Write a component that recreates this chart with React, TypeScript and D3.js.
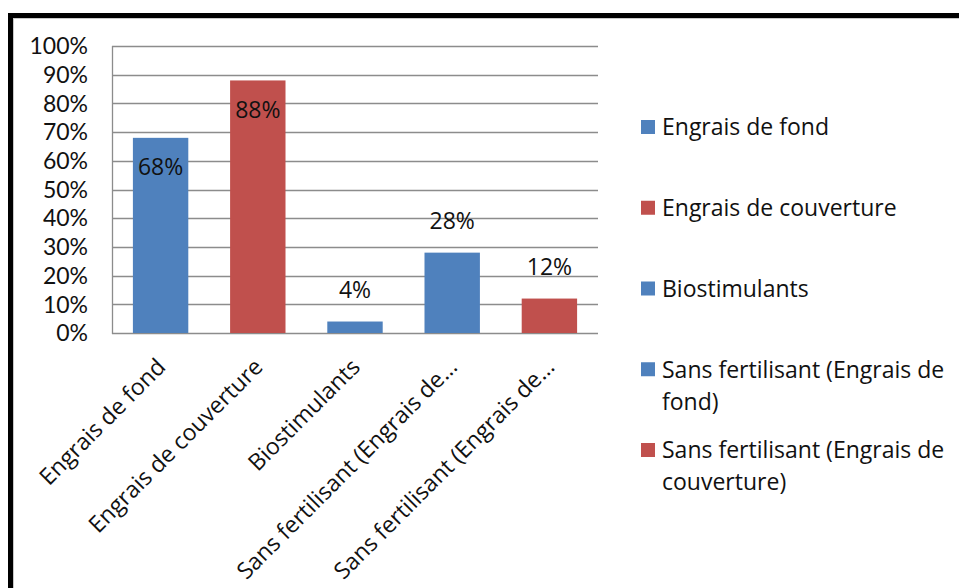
import React, { useEffect, useRef } from "react";
import * as d3 from "d3";

const categories = [
  "Engrais de fond",
  "Engrais de couverture",
  "Biostimulants",
  "Sans fertilisant (Engrais de fond)",
  "Sans fertilisant (Engrais de couverture)",
];
const axisLabels = [
  "Engrais de fond",
  "Engrais de couverture",
  "Biostimulants",
  "Sans fertilisant (Engrais de…",
  "Sans fertilisant (Engrais de…",
];
const values = [0.68, 0.88, 0.04, 0.28, 0.12];
const seriesColorKey = ["blue", "red", "blue", "blue", "red"];
const labelPlacement = ["inside", "inside", "outside", "outside", "outside"];
const yTicks = [0, 0.1, 0.2, 0.3, 0.4, 0.5, 0.6, 0.7, 0.8, 0.9, 1.0];
const legendLines = [
  ["Engrais de fond"],
  ["Engrais de couverture"],
  ["Biostimulants"],
  ["Sans fertilisant (Engrais de", "fond)"],
  ["Sans fertilisant (Engrais de", "couverture)"],
];

const COLORS: Record<string, string> = { blue: "#4F81BD", red: "#C0504D" };
const FONT = "'Open Sans', Lato, sans-serif";
const TICK_FONT = "Lato, 'Open Sans', sans-serif";
const FS = 23;

export default function App() {
  const ref = useRef<SVGSVGElement>(null);

  useEffect(() => {
    const svg = d3.select(ref.current);
    svg.selectAll("*").remove();
    const W = 959, H = 588;
    const plot = { left: 112, right: 598, top: 46, bottom: 333 };

    svg.append("rect").attr("x", 0).attr("y", 0).attr("width", W).attr("height", H).attr("fill", "#fff");

    // frame
    svg.append("rect").attr("x", 8).attr("y", 13).attr("width", W).attr("height", 5).attr("fill", "#000");
    svg.append("rect").attr("x", 8).attr("y", 13).attr("width", 5).attr("height", H).attr("fill", "#000");
    svg.append("line").attr("x1", 13).attr("x2", W).attr("y1", 18.5).attr("y2", 18.5).attr("stroke", "#c8c8c8");
    svg.append("line").attr("x1", 13.5).attr("x2", 13.5).attr("y1", 18).attr("y2", H).attr("stroke", "#c8c8c8");

    const x = d3.scaleBand<number>()
      .domain(d3.range(categories.length))
      .range([plot.left, plot.right])
      .paddingInner(0.43)
      .paddingOuter(0.215);
    const y = d3.scaleLinear().domain([0, 1]).range([plot.bottom, plot.top]);

    // gridlines
    svg.append("g").selectAll("line").data(yTicks).join("line")
      .attr("x1", plot.left).attr("x2", plot.right)
      .attr("y1", (d) => Math.round(y(d)) + 0.5).attr("y2", (d) => Math.round(y(d)) + 0.5)
      .attr("stroke", "#8c8c8c").attr("stroke-width", 1.3);
    svg.append("line").attr("x1", plot.left + 0.5).attr("x2", plot.left + 0.5)
      .attr("y1", plot.top).attr("y2", plot.bottom + 1)
      .attr("stroke", "#8c8c8c").attr("stroke-width", 1.3);

    // y tick labels
    svg.append("g").selectAll("text").data(yTicks).join("text")
      .attr("x", 88).attr("y", (d) => y(d))
      .attr("dy", "0.36em")
      .attr("text-anchor", "end")
      .attr("font-family", TICK_FONT).attr("font-size", FS).attr("fill", "#111")
      .text((d) => d3.format(".0%")(d));

    // bars
    svg.append("g").selectAll("rect").data(values).join("rect")
      .attr("x", (_, i) => x(i)!)
      .attr("width", x.bandwidth())
      .attr("y", (d) => y(d))
      .attr("height", (d) => y(0) - y(d))
      .attr("fill", (_, i) => COLORS[seriesColorKey[i]]);

    // data labels
    svg.append("g").selectAll("text").data(values).join("text")
      .attr("x", (_, i) => x(i)! + x.bandwidth() / 2)
      .attr("y", (d, i) => (labelPlacement[i] === "inside" ? y(d) + 29 : y(d) - 32))
      .attr("dy", "0.36em")
      .attr("text-anchor", "middle")
      .attr("font-family", FONT).attr("font-size", FS).attr("fill", "#111")
      .text((d) => d3.format(".0%")(d));

    // x labels
    svg.append("g").selectAll("text").data(axisLabels).join("text")
      .attr("transform", (_, i) => `translate(${x(i)! + x.bandwidth() / 2 - 5},${plot.bottom + 24}) rotate(-45)`)
      .attr("text-anchor", "end")
      .attr("dy", "0.7em")
      .attr("font-family", FONT).attr("font-size", FS).attr("fill", "#111")
      .text((d) => d);

    // legend
    const lg = svg.append("g");
    legendLines.forEach((lines, i) => {
      const cy = 127 + i * 80.75;
      lg.append("rect").attr("x", 641).attr("y", cy - 7).attr("width", 14).attr("height", 14)
        .attr("fill", COLORS[seriesColorKey[i]]);
      lines.forEach((ln, j) => {
        lg.append("text").attr("x", 662).attr("y", cy + j * 32).attr("dy", "0.36em")
          .attr("font-family", FONT).attr("font-size", FS).attr("fill", "#111").text(ln);
      });
    });
  }, []);

  return (
    <svg ref={ref} width={959} height={588}
      style={{ position: "absolute", left: 0, top: 0, display: "block" }} />
  );
}
